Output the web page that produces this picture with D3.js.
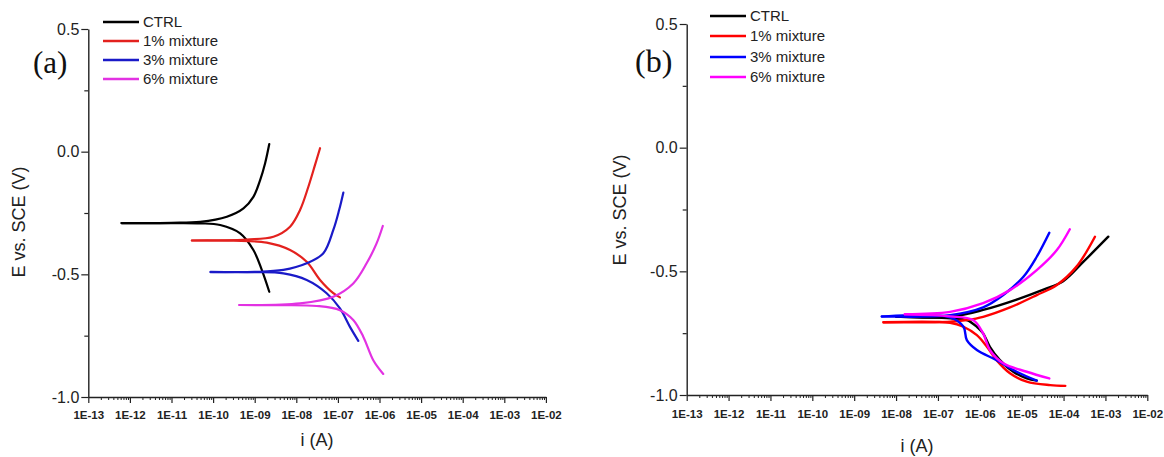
<!DOCTYPE html>
<html><head><meta charset="utf-8">
<script src="https://cdn.jsdelivr.net/npm/d3@7"></script>
<style>body{margin:0;background:#fff} svg{display:block}</style>
</head><body><svg id="c" width="1164" height="457"></svg>
<script>
// ---------- data ----------
const seriesNames = ["CTRL", "1% mixture", "3% mixture", "6% mixture"];
const xTickValues = [1e-13, 1e-12, 1e-11, 1e-10, 1e-9, 1e-8, 1e-7, 1e-6, 1e-5, 1e-4, 1e-3, 1e-2];
const xTickLabels = ["1E-13", "1E-12", "1E-11", "1E-10", "1E-09", "1E-08", "1E-07", "1E-06", "1E-05", "1E-04", "1E-03", "1E-02"];
const yTickValues = [-1.0, -0.5, 0.0, 0.5];
const yTickLabels = ["-1.0", "-0.5", "0.0", "0.5"];
const yMinorValues = [-0.75, -0.25, 0.25];
const panelLabels = ["(a)", "(b)"];
const xTitle = "i (A)";
const yTitle = "E vs. SCE (V)";

// Panel (a): [current i (A), potential E (V)]
const aCtrlAnodic = [[6.3e-13,-0.291],[1e-11,-0.290],[4.9e-11,-0.286],[2.14e-10,-0.265],[5.37e-10,-0.231],[9.3e-10,-0.184],[1.35e-9,-0.116],[1.78e-9,-0.047],[2.24e-9,0.031]];
const aCtrlCathodic = [[6.3e-13,-0.291],[1e-11,-0.291],[4.9e-11,-0.292],[1.48e-10,-0.299],[4.47e-10,-0.333],[9.3e-10,-0.401],[1.48e-9,-0.482],[2.24e-9,-0.571]];
const a1Anodic = [[3.09e-11,-0.362],[6.46e-10,-0.358],[2.82e-9,-0.347],[7.08e-9,-0.306],[1.23e-8,-0.238],[1.95e-8,-0.143],[2.82e-8,-0.054],[3.72e-8,0.014]];
const a1Cathodic = [[3.09e-11,-0.362],[3.09e-10,-0.363],[1.95e-9,-0.371],[7.08e-9,-0.401],[1.78e-8,-0.449],[3.72e-8,-0.523],[7.76e-8,-0.577],[1.12e-7,-0.594]];
const a3Anodic = [[8.71e-11,-0.490],[1e-9,-0.490],[4.9e-9,-0.482],[1.78e-8,-0.455],[4.47e-8,-0.414],[7.76e-8,-0.319],[1.07e-7,-0.238],[1.35e-7,-0.167]];
const a3Cathodic = [[8.71e-11,-0.491],[1e-9,-0.491],[4.9e-9,-0.496],[1.78e-8,-0.523],[5.37e-8,-0.577],[1.12e-7,-0.639],[1.95e-7,-0.714],[3.09e-7,-0.771]];
const a6Anodic = [[4.27e-10,-0.625],[1.23e-8,-0.618],[7.76e-8,-0.591],[2.34e-7,-0.537],[4.9e-7,-0.455],[8.51e-7,-0.374],[1.2e-6,-0.303]];
const a6Cathodic = [[4.27e-10,-0.625],[3.16e-9,-0.626],[3.09e-8,-0.629],[1.12e-7,-0.646],[2.34e-7,-0.686],[4.07e-7,-0.754],[7.08e-7,-0.850],[1.23e-6,-0.906]];

// Panel (b)
const bCtrlAnodic = [[1e-8,-0.683],[1.95e-7,-0.684],[1.2e-6,-0.656],[7.59e-6,-0.614],[3.31e-5,-0.574],[9.77e-5,-0.540],[2.95e-4,-0.462],[1.17e-3,-0.360]];
const bCtrlCathodic = [[1e-8,-0.683],[1.95e-7,-0.690],[4.9e-7,-0.697],[8.51e-7,-0.724],[1.2e-6,-0.751],[1.74e-6,-0.805],[3.02e-6,-0.859],[6.31e-6,-0.906],[1.32e-5,-0.933],[2.29e-5,-0.942]];
const b1Anodic = [[5.01e-9,-0.706],[1.95e-7,-0.704],[4.9e-7,-0.697],[1.2e-6,-0.684],[5.25e-6,-0.646],[2.29e-5,-0.596],[6.92e-5,-0.555],[2.04e-4,-0.481],[5.62e-4,-0.360]];
const b1Cathodic = [[5.01e-9,-0.706],[1.95e-7,-0.708],[4.07e-7,-0.724],[8.51e-7,-0.758],[1.48e-6,-0.805],[2.51e-6,-0.859],[5.25e-6,-0.912],[1.32e-5,-0.946],[4.79e-5,-0.960],[1.1e-4,-0.963]];
const b3Anodic = [[4.57e-9,-0.682],[1.95e-7,-0.677],[1.2e-6,-0.646],[3.63e-6,-0.596],[1.1e-5,-0.522],[2.29e-5,-0.441],[4.57e-5,-0.344]];
const b3Cathodic = [[4.57e-9,-0.683],[1.95e-7,-0.686],[4.07e-7,-0.724],[4.9e-7,-0.778],[8.51e-7,-0.818],[2.51e-6,-0.859],[7.59e-6,-0.906],[2.29e-5,-0.942]];
const b6Anodic = [[1.62e-8,-0.673],[1.95e-7,-0.664],[1.2e-6,-0.629],[5.25e-6,-0.576],[2.29e-5,-0.495],[6.92e-5,-0.414],[1.41e-4,-0.330]];
const b6Cathodic = [[1.62e-8,-0.674],[1.95e-7,-0.682],[6.92e-7,-0.697],[1.2e-6,-0.751],[1.74e-6,-0.818],[3.63e-6,-0.872],[1.32e-5,-0.906],[4.57e-5,-0.933]];

const colorsA = ["#000000", "#e3211e", "#1a1ac8", "#e232e2"];
const colorsB = ["#000000", "#ff0000", "#0000ff", "#ff00ff"];

// ---------- layout ----------
const panels = [
  { label: panelLabels[0], x0: 88.3, x1: 545.9, yTop: 29, yBot: 397, colors: colorsA,
    series: [[aCtrlCathodic, aCtrlAnodic], [a1Cathodic, a1Anodic], [a3Cathodic, a3Anodic], [a6Cathodic, a6Anodic]],
    xLabelY: 18, xTitleY: 446, yTitleX: 25, yTitleY: 222, labelPos: [33, 73], labelSize: 31,
    legX: 103, legY: [22, 41, 60, 79], width: 2.2 },
  { label: panelLabels[1], x0: 686.7, x1: 1147.3, yTop: 24, yBot: 395, colors: colorsB,
    series: [[bCtrlCathodic, bCtrlAnodic], [b1Cathodic, b1Anodic], [b3Cathodic, b3Anodic], [b6Cathodic, b6Anodic]],
    xLabelY: 19, xTitleY: 452, yTitleX: 626, yTitleY: 210, labelPos: [635, 72], labelSize: 32,
    legX: 710, legY: [16, 36, 57, 77], width: 2.4 }
];

const svg = d3.select("#c");
const font = "'Liberation Sans', Arial, sans-serif";

panels.forEach(p => {
  const g = svg.append("g");
  const x = d3.scaleLog().domain([1e-13, 1e-2]).range([p.x0, p.x1]);
  const y = d3.scaleLinear().domain([-1, 0.5]).range([p.yBot, p.yTop]);

  // minor x ticks
  const minor = [];
  xTickValues.slice(0, -1).forEach(d => { for (let k = 2; k <= 9; k++) minor.push(d * k); });
  g.append("g").attr("transform", `translate(0,${p.yBot})`)
    .call(d3.axisBottom(x).tickValues(minor).tickSize(3).tickSizeOuter(0).tickFormat(""))
    .call(s => s.select(".domain").remove())
    .call(s => s.selectAll("line").attr("stroke", "#222").attr("stroke-width", 1));

  const xa = g.append("g").attr("transform", `translate(0,${p.yBot})`)
    .call(d3.axisBottom(x).tickValues(xTickValues).tickSize(6).tickSizeOuter(0)
      .tickFormat((d, i) => xTickLabels[i]));
  xa.select(".domain").attr("stroke", "#222").attr("stroke-width", 1.4);
  xa.selectAll("line").attr("stroke", "#222").attr("stroke-width", 1.2);
  xa.selectAll("text").attr("y", p.xLabelY).attr("dy", "0.35em")
    .attr("font-family", font).attr("font-size", 11.5).attr("font-weight", "bold").attr("fill", "#222");

  // y axis
  g.append("g").attr("transform", `translate(${p.x0},0)`)
    .call(d3.axisLeft(y).tickValues(yMinorValues).tickSize(4).tickSizeOuter(0).tickFormat(""))
    .call(s => s.select(".domain").remove())
    .call(s => s.selectAll("line").attr("stroke", "#222").attr("stroke-width", 1.2));
  const ya = g.append("g").attr("transform", `translate(${p.x0},0)`)
    .call(d3.axisLeft(y).tickValues(yTickValues).tickSize(7).tickPadding(2).tickSizeOuter(0)
      .tickFormat((d, i) => yTickLabels[i]));
  ya.select(".domain").attr("stroke", "#222").attr("stroke-width", 1.4);
  ya.selectAll("line").attr("stroke", "#222").attr("stroke-width", 1.2);
  ya.selectAll("text").attr("font-family", font).attr("font-size", 16).attr("fill", "#222");

  // titles
  g.append("text").attr("x", (p.x0 + p.x1) / 2).attr("y", p.xTitleY).attr("text-anchor", "middle")
    .attr("font-family", font).attr("font-size", 18).attr("fill", "#222").text(xTitle);
  g.append("text").attr("transform", `translate(${p.yTitleX},${p.yTitleY}) rotate(-90)`)
    .attr("text-anchor", "middle").attr("font-family", font).attr("font-size", 18).attr("fill", "#222").text(yTitle);
  g.append("text").attr("x", p.labelPos[0]).attr("y", p.labelPos[1])
    .attr("font-family", "'Liberation Serif', 'Times New Roman', serif").attr("font-size", p.labelSize)
    .attr("fill", "#111").text(p.label);

  // curves
  const line = d3.line().x(d => x(d[0])).y(d => y(d[1])).curve(d3.curveCatmullRom.alpha(0.5));
  p.series.forEach((branches, si) => {
    branches.forEach(b => {
      g.append("path").datum(b).attr("d", line).attr("fill", "none")
        .attr("stroke", p.colors[si]).attr("stroke-width", p.width)
        .attr("stroke-linecap", "round").attr("stroke-linejoin", "round");
    });
  });

  // legend
  seriesNames.forEach((name, i) => {
    const ly = p.legY[i];
    g.append("line").attr("x1", p.legX).attr("x2", p.legX + 36).attr("y1", ly).attr("y2", ly)
      .attr("stroke", p.colors[i]).attr("stroke-width", 2.6);
    g.append("text").attr("x", p.legX + 40).attr("y", ly).attr("dy", "0.36em")
      .attr("font-family", font).attr("font-size", 15).attr("fill", "#222").text(name);
  });
});
</script></body></html>
